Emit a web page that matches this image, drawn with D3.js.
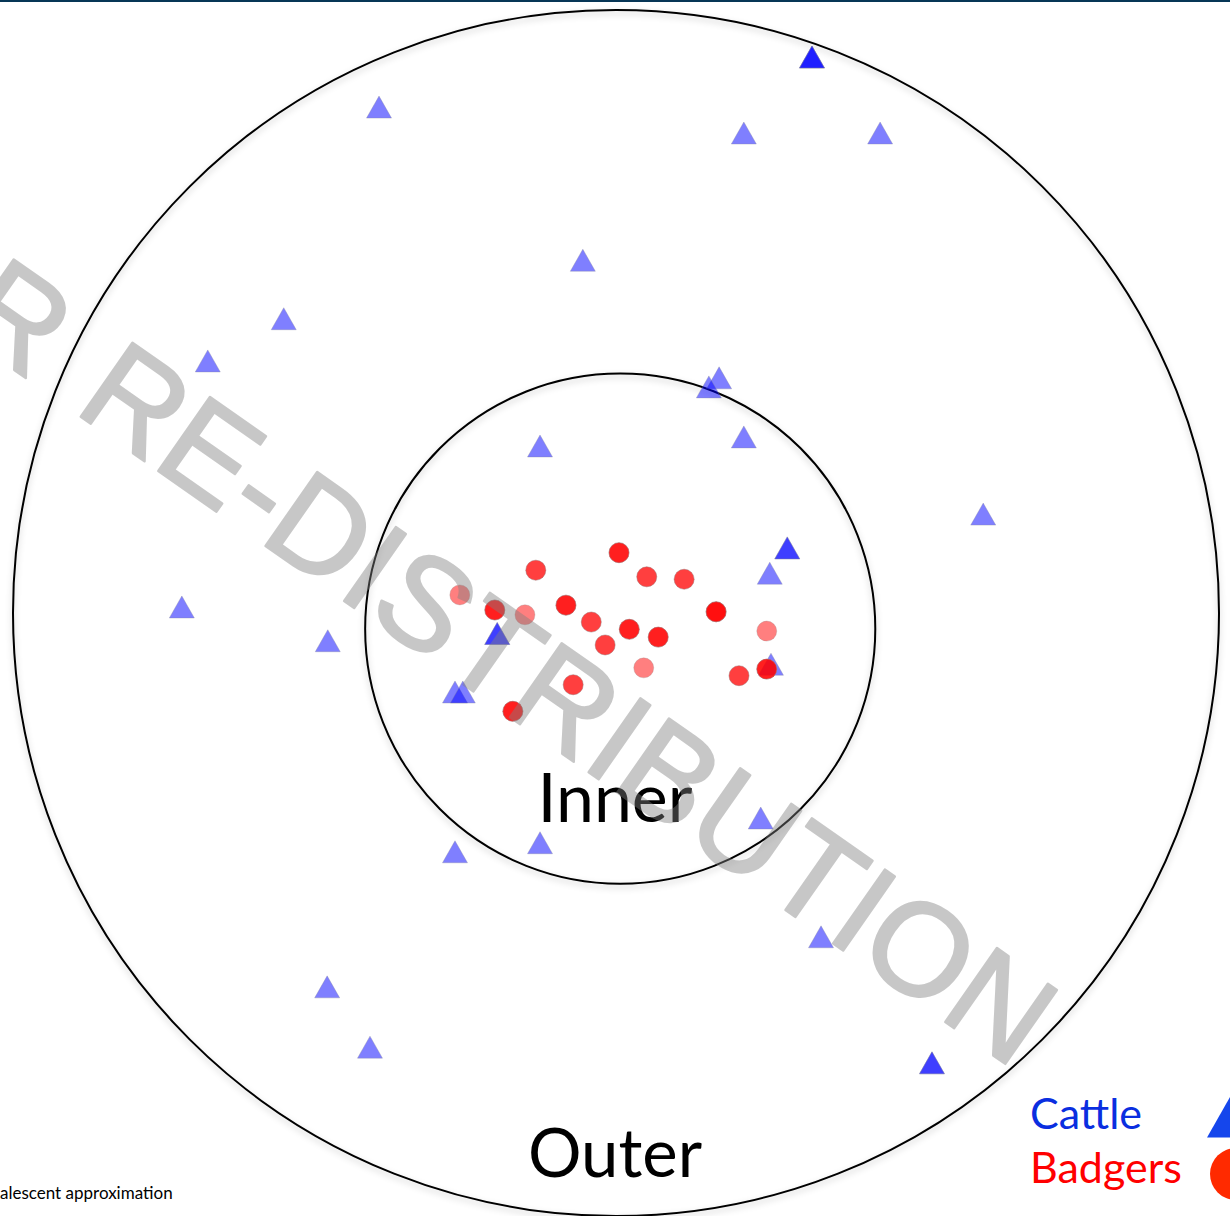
<!DOCTYPE html>
<html><head><meta charset="utf-8">
<script src="https://cdn.jsdelivr.net/npm/d3@7"></script>
<style>html,body{margin:0;padding:0;background:#fff;overflow:hidden}</style>
</head><body>
<svg id="c" width="1230" height="1216"></svg>
<script>
// ---- data (map units: outer ring radius = 100) ----
const zones = ["Inner", "Outer"];
const zoneCX = [0.7, 0];
const zoneCY = [-2.6, 0];
const zoneR  = [42.3, 100];

const cattleX = [-39.3, 32.5, 21.2, 43.8, -5.5, -55.1, -67.7, 17.1, 15.4, -12.6, 21.2, 60.9, 28.4, 25.5, -72.0, -47.8, -19.7, -26.7, -25.4, 25.7, 24.0, -12.6, -26.7, 34.0, -47.9, -40.8, 52.4];
const cattleY = [83.9, 92.2, 79.6, 79.6, 58.5, 48.8, 41.8, 39.0, 37.5, 27.7, 29.2, 16.4, 10.8, 6.6, 1.0, -4.6, -3.4, -13.1, -13.1, -8.5, -34.0, -38.1, -39.6, -53.7, -62.0, -72.0, -74.6];
const cattleN = [1, 3, 1, 1, 1, 1, 1, 1, 1, 1, 1, 1, 2, 1, 1, 1, 2, 1, 1, 1, 1, 1, 1, 1, 1, 1, 2];

const badgerX = [0.5, -13.3, 5.1, 11.3, -25.9, -20.1, -15.1, -8.3, 16.6, -4.1, 2.2, 7.0, -1.8, 25.0, 4.6, -7.1, 20.4, 25.0, -17.1];
const badgerY = [10.0, 7.1, 6.0, 5.6, 3.0, 0.5, -0.3, 1.3, 0.2, -1.5, -2.7, -4.0, -5.3, -3.0, -9.1, -11.9, -10.4, -9.3, -16.3];
const badgerN = [3, 2, 2, 2, 1, 3, 1, 3, 4, 2, 3, 3, 2, 1, 1, 2, 2, 3, 3];

const legendLabels = ["Cattle", "Badgers"];
const footnote = "alescent approximation";
const watermark = "NOT FOR RE-DISTRIBUTION";

// ---- drawing ----
const W = 1230, H = 1216;
const svg = d3.select("#c");
const x = d3.scaleLinear().domain([-100, 100]).range([13, 1219]);
const y = d3.scaleLinear().domain([-100, 100]).range([1216, 10]);
const rpx = r => x(r) - x(0);

const defs = svg.append("defs");
const f = defs.append("filter").attr("id", "sh").attr("x", "-10%").attr("y", "-10%").attr("width", "120%").attr("height", "120%");
f.append("feDropShadow").attr("dx", 0).attr("dy", 3).attr("stdDeviation", 3).attr("flood-color", "#000").attr("flood-opacity", 0.22);

svg.append("rect").attr("width", W).attr("height", H).attr("fill", "#fff");
svg.append("rect").attr("x", 0).attr("y", 0).attr("width", W).attr("height", 2).attr("fill", "#073656");

// rings
svg.selectAll("circle.zone").data(zones).join("circle")
  .attr("class", "zone")
  .attr("cx", (d, i) => x(zoneCX[i]))
  .attr("cy", (d, i) => y(zoneCY[i]))
  .attr("r", (d, i) => rpx(zoneR[i]))
  .attr("fill", "none").attr("stroke", "#000").attr("stroke-width", 2)
  .attr("filter", "url(#sh)");

// zone labels
const labelFont = "Lato, 'Open Sans', sans-serif";
svg.append("text").attr("x", 615).attr("y", 822).attr("text-anchor", "middle")
  .attr("font-family", labelFont).attr("font-size", 68).attr("fill", "#000").text(zones[0]);
svg.append("text").attr("x", 615).attr("y", 1177).attr("text-anchor", "middle")
  .attr("font-family", labelFont).attr("font-size", 67).attr("fill", "#000").text(zones[1]);

// triangle symbol: size = base width, centred on bbox
const tri = {
  draw(ctx, size) {
    const w = size, h = size * 0.88;
    ctx.moveTo(0, -h / 2);
    ctx.lineTo(w / 2, h / 2);
    ctx.lineTo(-w / 2, h / 2);
    ctx.closePath();
  }
};

// expand counts into stacked semi-transparent marks
const cattle = [];
cattleX.forEach((v, i) => { for (let k = 0; k < cattleN[i]; k++) cattle.push({ x: v, y: cattleY[i] }); });
const badgers = [];
badgerX.forEach((v, i) => { for (let k = 0; k < badgerN[i]; k++) badgers.push({ x: v, y: badgerY[i] }); });

svg.append("g").selectAll("path").data(cattle).join("path")
  .attr("d", d3.symbol().type(tri).size(25))
  .attr("transform", d => `translate(${x(d.x)},${y(d.y)})`)
  .attr("fill", "#0000ff").attr("fill-opacity", 0.5)
  .attr("stroke", "#8888a0").attr("stroke-opacity", 0.35).attr("stroke-width", 1);

svg.append("g").selectAll("circle").data(badgers).join("circle")
  .attr("cx", d => x(d.x)).attr("cy", d => y(d.y)).attr("r", 10)
  .attr("fill", "#ff0000").attr("fill-opacity", 0.5)
  .attr("stroke", "#a08888").attr("stroke-opacity", 0.3).attr("stroke-width", 1);

// legend
svg.append("text").attr("x", 1030).attr("y", 1129).attr("font-family", labelFont)
  .attr("font-size", 43).attr("fill", "#0a2ee0").text(legendLabels[0]);
svg.append("text").attr("x", 1030).attr("y", 1183).attr("font-family", labelFont)
  .attr("font-size", 43).attr("fill", "#ff0000").text(legendLabels[1]);
svg.append("path").attr("d", d3.symbol().type(tri).size(58))
  .attr("transform", "translate(1236,1112)").attr("fill", "#1546ec");
svg.append("circle").attr("cx", 1236).attr("cy", 1174).attr("r", 26).attr("fill", "#ff2a00");

// footnote
svg.append("text").attr("x", 0).attr("y", 1199).attr("font-family", labelFont)
  .attr("font-size", 17).attr("fill", "#000").text(footnote);

// watermark
svg.append("g").attr("opacity", 0.43)
  .append("text").attr("transform", "translate(1014,1070) rotate(35)")
  .attr("text-anchor", "end").attr("font-family", "'Liberation Sans', Arial, sans-serif")
  .attr("font-size", 131).attr("word-spacing", 14)
  .attr("fill", "#808080").attr("stroke", "#808080").attr("stroke-width", 2.5)
  .attr("stroke-linejoin", "round")
  .text(watermark);
</script>
</body></html>
